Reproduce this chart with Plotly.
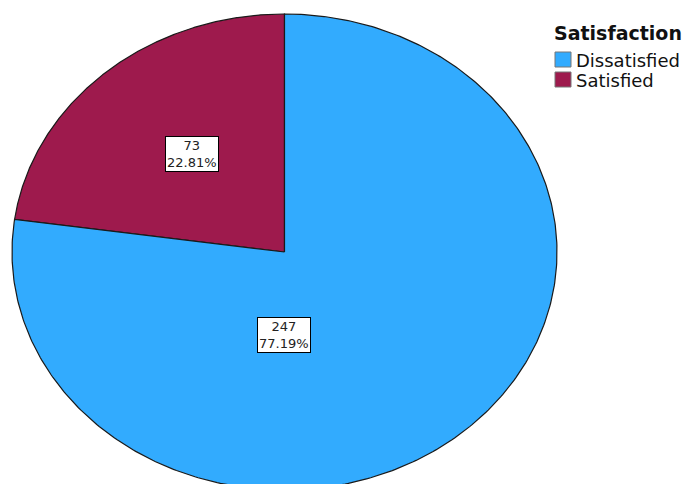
import numpy as np
import plotly.graph_objects as go

# Satisfaction counts
categories = ["Dissatisfied", "Satisfied"]
counts = [247, 73]
colors = ["#32ABFE", "#9E1A4D"]
legend_title = "Satisfaction"

W, H = 687, 484
# pie geometry in pixels (elliptical pie)
CX, CY, RX, RY = 284.5, 252.0, 272.5, 238.0

total = sum(counts)
pcts = [c / total * 100 for c in counts]

fig = go.Figure()

# Slices run counter-clockwise from 12 o'clock, last category first (Satisfied)
order = [1, 0]
start = 90.0
for idx in order:
    sweep = counts[idx] / total * 360.0
    th = np.radians(np.linspace(start, start + sweep, 400))
    xs = np.concatenate([[0.0], np.cos(th), [0.0]])
    ys = np.concatenate([[0.0], np.sin(th), [0.0]])
    fig.add_trace(go.Scatter(
        x=xs, y=ys, mode="lines", fill="toself",
        fillcolor=colors[idx], line=dict(color="#1a1a1a", width=1.2),
        hoverinfo="skip", showlegend=False, name=categories[idx],
    ))
    start += sweep

# value labels (pixel centres of the label boxes)
label_pos = {1: (192, 154), 0: (284, 335)}
annotations = []
for idx, (px, py) in label_pos.items():
    annotations.append(dict(
        x=px / W, y=1 - py / H, xref="paper", yref="paper",
        xanchor="center", yanchor="middle",
        text=f"{counts[idx]}<br>{pcts[idx]:.2f}%",
        showarrow=False, bgcolor="white", bordercolor="black", borderwidth=1,
        borderpad=1, font=dict(family="DejaVu Sans", size=13, color="#222"),
        align="center",
    ))

# legend drawn on paper coordinates
annotations.append(dict(
    x=552 / W, y=1 - 33 / H, xref="paper", yref="paper", xanchor="left", yanchor="middle",
    text=f"<b>{legend_title}</b>", showarrow=False,
    font=dict(family="DejaVu Sans", size=19, color="#111"),
))
shapes = []
for i, (name, col) in enumerate(zip(categories, colors)):
    top = 52 + i * 20
    shapes.append(dict(
        type="rect", xref="paper", yref="paper",
        x0=555 / W, x1=571 / W, y0=1 - (top + 15) / H, y1=1 - top / H,
        fillcolor=col, line=dict(color="#777", width=1),
    ))
    annotations.append(dict(
        x=574 / W, y=1 - (top + 8) / H, xref="paper", yref="paper",
        xanchor="left", yanchor="middle", text=name, showarrow=False,
        font=dict(family="DejaVu Sans", size=18, color="#111"),
    ))

fig.update_layout(
    width=W, height=H, margin=dict(l=0, r=0, t=0, b=0),
    paper_bgcolor="white", plot_bgcolor="white",
    xaxis=dict(range=[-CX / RX, (W - CX) / RX], visible=False, fixedrange=True),
    yaxis=dict(range=[-(H - CY) / RY, CY / RY], visible=False, fixedrange=True),
    annotations=annotations, shapes=shapes, showlegend=False,
)

fig.write_html("out.html")
